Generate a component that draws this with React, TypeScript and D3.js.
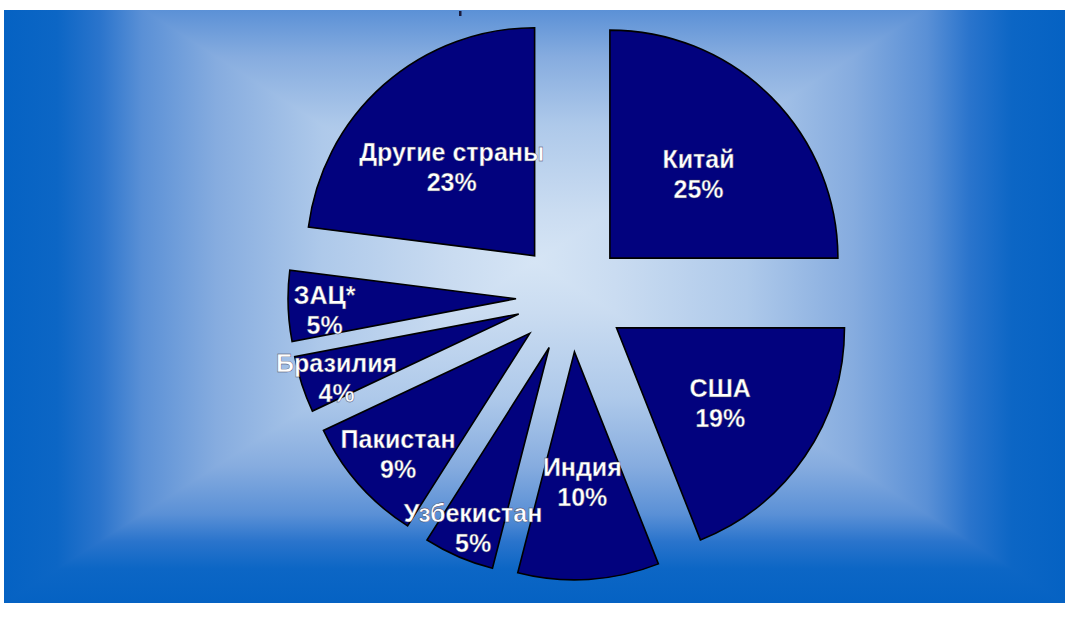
import { useEffect, useRef } from "react"
import * as d3 from "d3"

// shares of world cotton production, %
const countries = ["Китай", "США", "Индия", "Узбекистан", "Пакистан", "Бразилия", "ЗАЦ*", "Другие страны"]
const shares = [25, 19, 10, 5, 9, 4, 5, 23]

// background gradient stops: edge -> centre
const bgStops = ["#0562c3", "#0c66c5", "#2a74cc", "#5a90d6", "#86acdf", "#aec9ea", "#cadcf1", "#d6e5f5"]
const bgOffsets = [0, 0.1, 0.18, 0.26, 0.4, 0.6, 0.85, 1]

export default function App() {
  const svgRef = useRef<SVGSVGElement>(null)

  useEffect(() => {
    if (!svgRef.current) return
    const svg = d3.select(svgRef.current)
    svg.selectAll("*").remove()

    const width = 1065
    const height = 618
    svg.attr("width", width).attr("height", height)

    // plot area (its top is cut off by the picture)
    const L = 4, R = 1065, T = -80, B = 603, clipTop = 10
    const cx = (L + R) / 2
    const cy = (T + B) / 2

    const defs = svg.append("defs")
    const vGrad = defs.append("linearGradient").attr("id", "vgrad")
      .attr("gradientUnits", "userSpaceOnUse")
      .attr("x1", 0).attr("y1", T).attr("x2", 0).attr("y2", B)
    const hGrad = defs.append("linearGradient").attr("id", "hgrad")
      .attr("gradientUnits", "userSpaceOnUse")
      .attr("x1", L).attr("y1", 0).attr("x2", R).attr("y2", 0)
    ;[vGrad, hGrad].forEach((g) => {
      bgOffsets.forEach((o, i) => g.append("stop").attr("offset", o / 2).attr("stop-color", bgStops[i]))
      bgOffsets.slice().reverse().forEach((o, i) =>
        g.append("stop").attr("offset", 1 - o / 2).attr("stop-color", bgStops[bgStops.length - 1 - i]))
    })
    defs.append("clipPath").attr("id", "plotclip")
      .append("rect").attr("x", L).attr("y", clipTop).attr("width", R - L).attr("height", B - clipTop)

    const bg = svg.append("g").attr("clip-path", "url(#plotclip)")
    bg.append("rect").attr("x", L).attr("y", T).attr("width", R - L).attr("height", B - T).attr("fill", "url(#vgrad)")
    bg.append("path")
      .attr("d", `M${L},${T}L${cx},${cy}L${L},${B}Z M${R},${T}L${cx},${cy}L${R},${B}Z`)
      .attr("fill", "url(#hgrad)")

    // remains of the cut-off title
    svg.append("rect").attr("x", 459).attr("y", 11).attr("width", 2.5).attr("height", 5).attr("fill", "#1a1a3a")

    // pie
    const center = { x: 571, y: 297 }
    const radius = 228
    const explode = 55

    const pie = d3.pie<number>().sort(null).value((d) => d)
    const arcs = pie(shares)
    const arc = d3.arc<d3.PieArcDatum<number>>().innerRadius(0).outerRadius(radius)

    const g = svg.append("g").attr("transform", `translate(${center.x},${center.y})`)

    const midAngle = (a: d3.PieArcDatum<number>) => (a.startAngle + a.endAngle) / 2
    const offset = (a: d3.PieArcDatum<number>) =>
      `translate(${Math.sin(midAngle(a)) * explode},${-Math.cos(midAngle(a)) * explode})`

    g.selectAll(".slice")
      .data(arcs)
      .enter()
      .append("path")
      .attr("class", "slice")
      .attr("transform", offset)
      .attr("d", (a) => arc(a) as string)
      .attr("fill", "#02027e")
      .attr("stroke", "#000")
      .attr("stroke-width", 1.6)

    // labels on top of all slices
    arcs.forEach((a, i) => {
      const mid = midAngle(a)
      // best-fit style: big slices keep the label inside, thin ones push it out
      const lr = radius * (a.data >= 10 ? 0.55 : a.data >= 8 ? 0.77 : 0.84)
      const lx = Math.sin(mid) * lr
      const ly = -Math.cos(mid) * lr
      const text = g.append("text")
        .attr("transform", offset(a))
        .attr("text-anchor", "middle")
        .attr("font-family", "'Liberation Sans', Arial, sans-serif")
        .attr("font-weight", "bold")
        .attr("font-size", 25)
        .attr("fill", "#fff")
        .attr("stroke", "#3a3a60")
        .attr("stroke-width", 0.4)
      text.append("tspan").attr("x", lx).attr("y", ly - 1).text(countries[i])
      text.append("tspan").attr("x", lx).attr("y", ly + 29).text(`${a.data}%`)
    })
  }, [])

  return <svg ref={svgRef} style={{ position: "absolute", left: 0, top: 0, background: "#fff" }}></svg>
}
